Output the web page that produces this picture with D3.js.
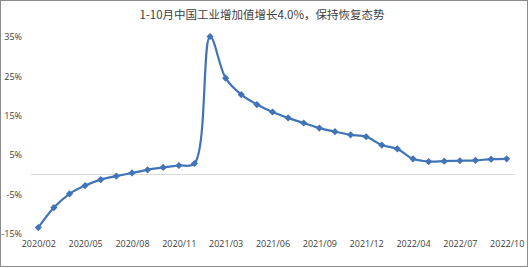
<!DOCTYPE html>
<html><head><meta charset="utf-8">
<script src="https://cdn.jsdelivr.net/npm/d3@7"></script>
<style>body{margin:0;background:#fff}</style>
</head><body>
<svg id="c" width="529" height="268"></svg>
<script>
const months = ["2020/02","2020/03","2020/04","2020/05","2020/06","2020/07","2020/08","2020/09","2020/10","2020/11","2020/12",
"2021/02","2021/03","2021/04","2021/05","2021/06","2021/07","2021/08","2021/09","2021/10","2021/11","2021/12",
"2022/02","2022/03","2022/04","2022/05","2022/06","2022/07","2022/08","2022/09","2022/10"];
const growth = [-13.5,-8.4,-4.9,-2.8,-1.3,-0.4,0.4,1.2,1.8,2.3,2.8,
35.1,24.5,20.3,17.8,15.9,14.4,13.1,11.8,10.9,10.1,9.6,
7.5,6.5,4.0,3.3,3.4,3.5,3.6,3.9,4.0];
const xTickLabels = ["2020/02","2020/05","2020/08","2020/11","2021/03","2021/06","2021/09","2021/12","2022/04","2022/07","2022/10"];
const yTicks = [-15,-5,5,15,25,35];
const title = "1-10月中国工业增加值增长4.0%，保持恢复态势";

const svg = d3.select("#c");
const W = 529, H = 268;
svg.append("rect").attr("x",0.5).attr("y",0.5).attr("width",W-2).attr("height",H-2)
  .attr("fill","#fff").attr("stroke","#8c8c8c");

const x = d3.scalePoint().domain(months).range([30.5,514.5]).padding(0.5);
const y = d3.scaleLinear().domain([-15,35]).range([233.5,36.9]);

svg.append("text").attr("x",262).attr("y",19).attr("text-anchor","middle")
  .attr("font-family","'Noto Sans CJK SC'").attr("font-size",11.5).attr("fill","#404040")
  .text(title);

// zero line
svg.append("line").attr("x1",30.5).attr("x2",514.5).attr("y1",y(0)).attr("y2",y(0))
  .attr("stroke","#d9d9d9").attr("stroke-width",1);

// y labels
const yAxis = d3.axisLeft(y).tickValues(yTicks).tickSize(0).tickPadding(0).tickFormat(d=>d+"%");
const ga = svg.append("g").attr("transform","translate(22,0)").call(yAxis);
ga.select(".domain").remove();
ga.selectAll("text").attr("font-family","'Open Sans'").attr("font-size",9).attr("fill","#404040");

// x labels
const xAxis = d3.axisBottom(x).tickValues(xTickLabels).tickSize(0).tickPadding(0);
const gx = svg.append("g").attr("transform","translate(0,241)").call(xAxis);
gx.select(".domain").remove();
gx.selectAll("text").attr("font-family","'Open Sans'").attr("font-size",9).attr("fill","#404040");

const line = d3.line().x((d,i)=>x(months[i])).y(d=>y(d)).curve(d3.curveCatmullRom.alpha(0.5));
svg.append("path").datum(growth).attr("d",line).attr("fill","none")
  .attr("stroke","#4173b9").attr("stroke-width",2.2);

const s = 3.6;
svg.selectAll("path.m").data(growth).join("path").attr("class","m")
  .attr("transform",(d,i)=>`translate(${x(months[i])},${y(d)})`)
  .attr("d",`M0,${-s}L${s},0L0,${s}L${-s},0Z`).attr("fill","#4173b9");
</script>
</body></html>
